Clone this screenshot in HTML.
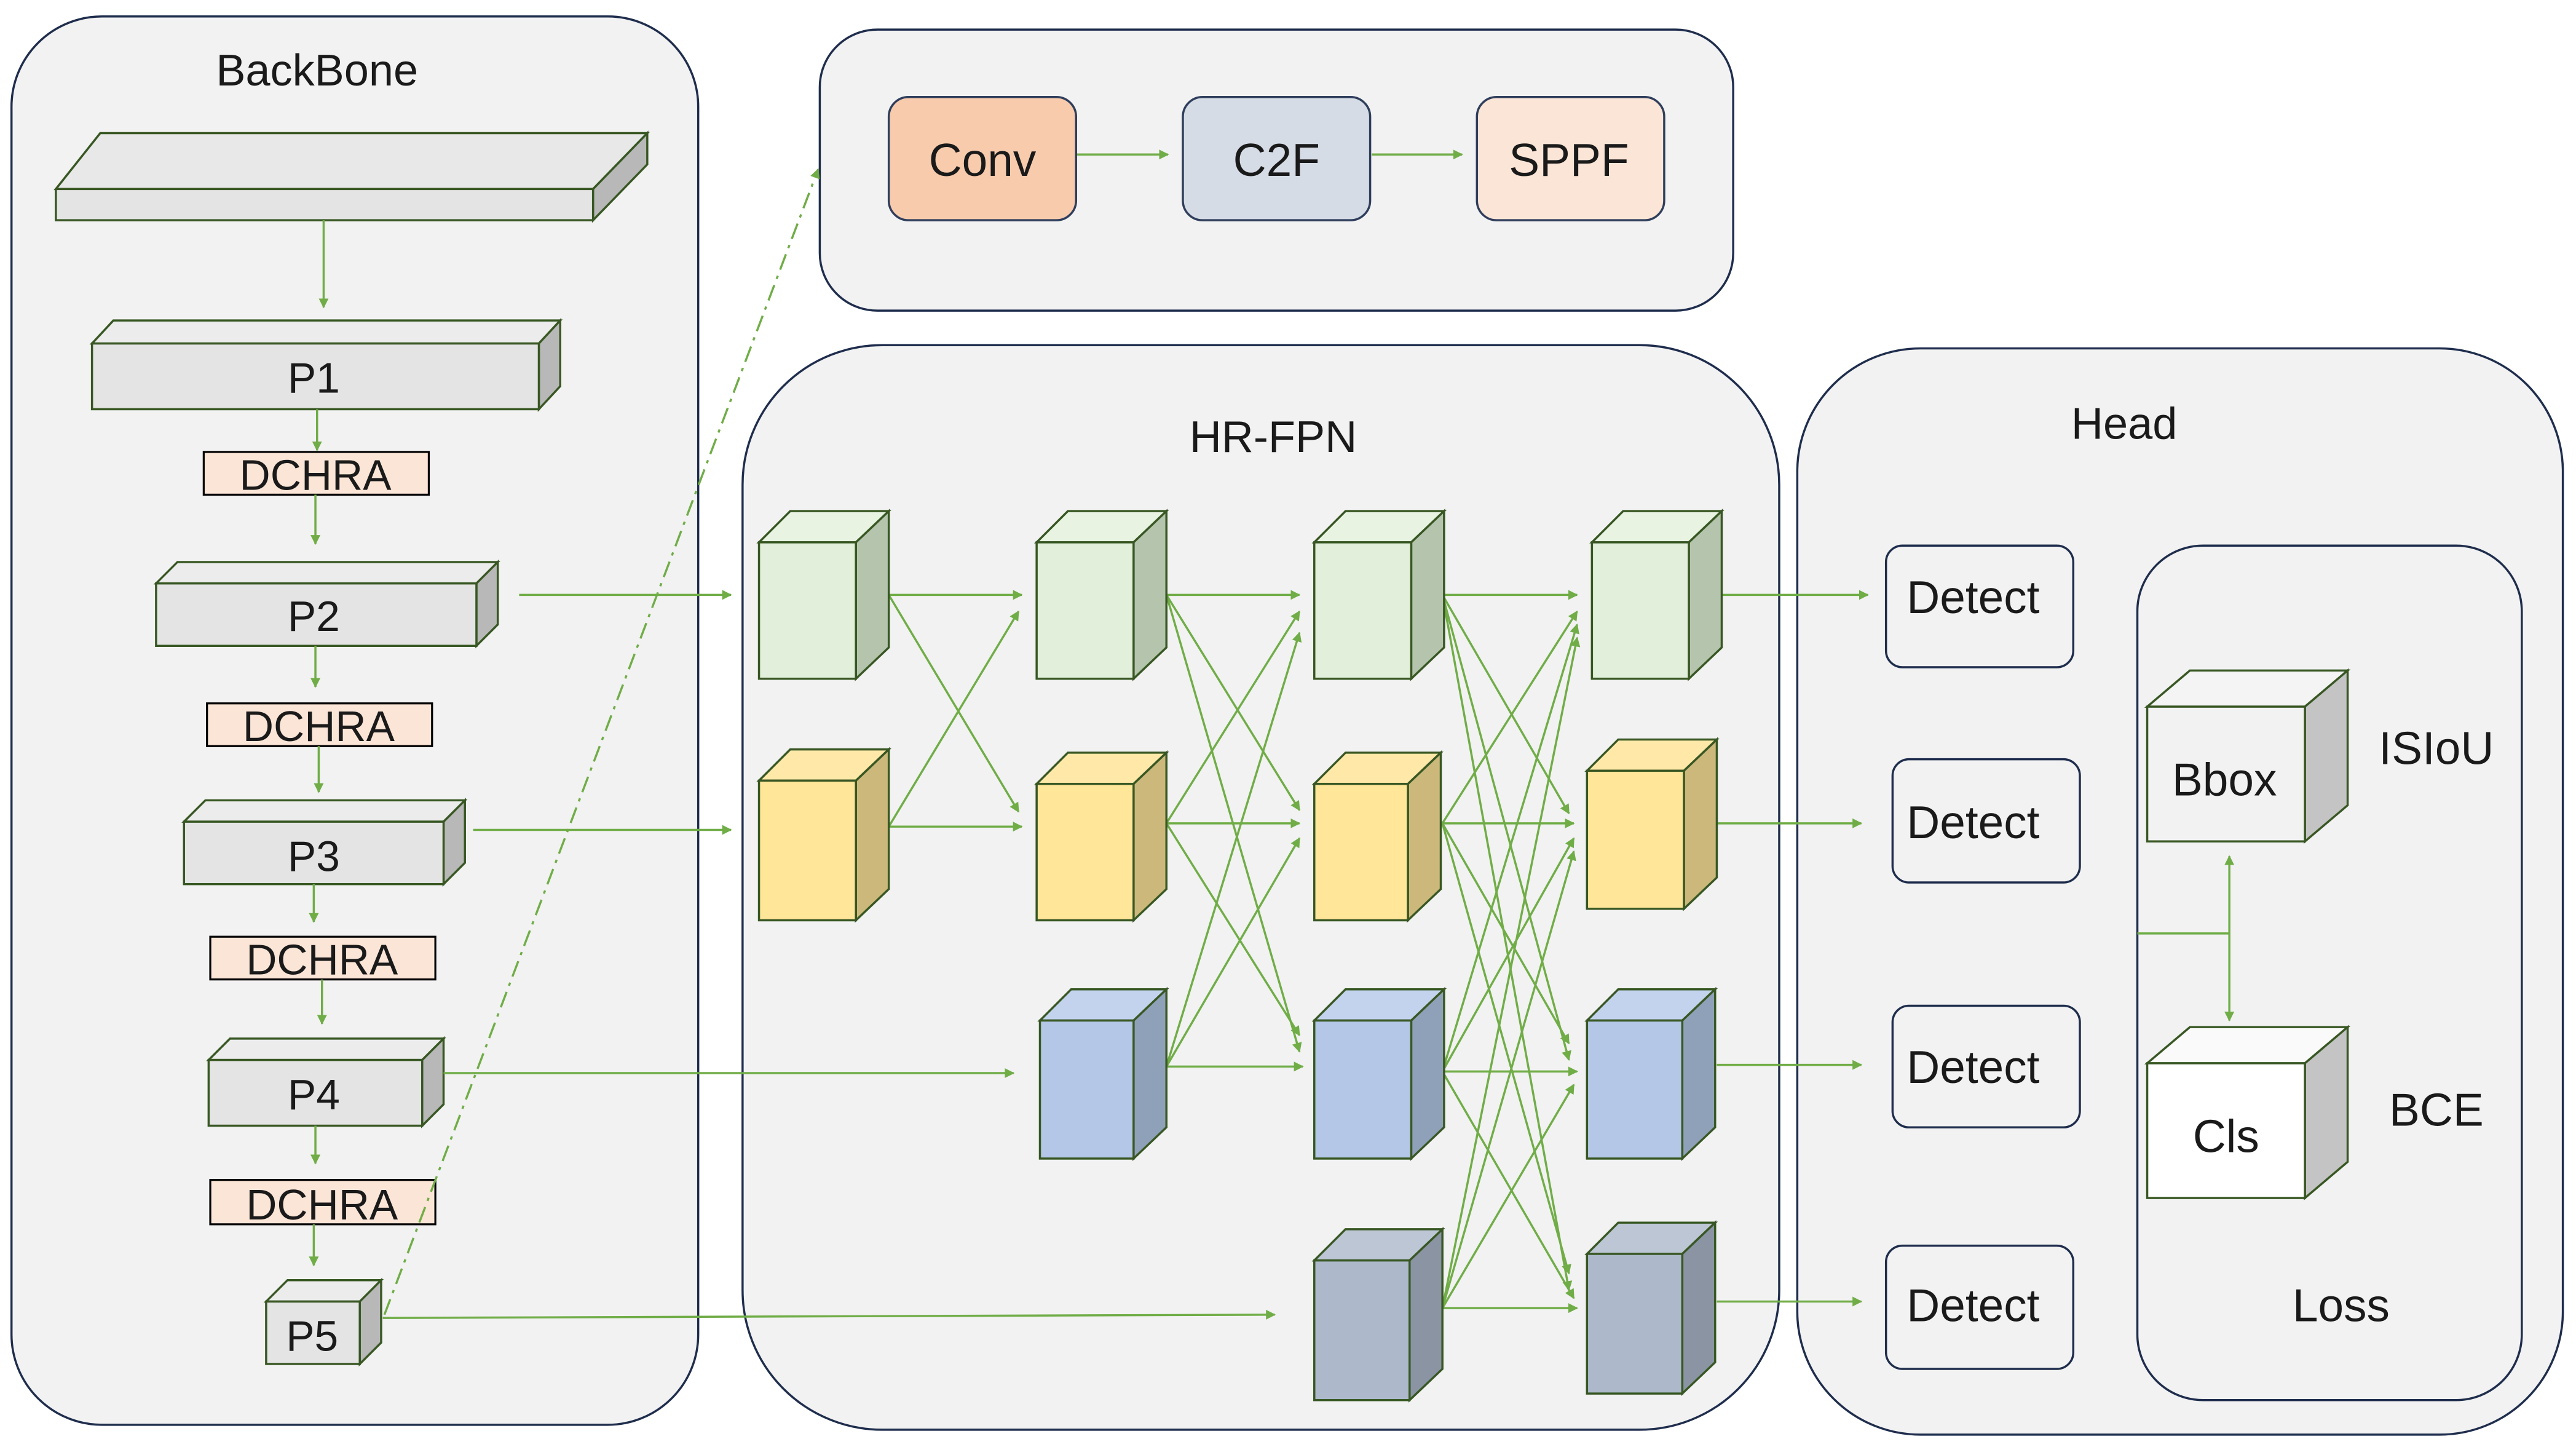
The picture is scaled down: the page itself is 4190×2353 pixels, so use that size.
<!DOCTYPE html>
<html><head><meta charset="utf-8"><style>html,body{margin:0;padding:0;background:#fff}svg{display:block}text{font-family:"Liberation Sans",sans-serif;fill:#1a1a1a}</style></head><body>
<svg width="4190" height="2353" viewBox="0 0 1568 880.5" xmlns="http://www.w3.org/2000/svg">
<defs>
<marker id="a" viewBox="0 0 10 10" refX="9" refY="5" markerWidth="6" markerHeight="6" orient="auto" markerUnits="userSpaceOnUse"><path d="M0,0L10,5L0,10z" fill="#70ad47"/></marker>
<marker id="a2" viewBox="0 0 10 10" refX="9" refY="5" markerWidth="9" markerHeight="9" orient="auto" markerUnits="userSpaceOnUse"><path d="M0,0L10,5L0,10z" fill="#70ad47"/></marker>
</defs>
<rect width="1568" height="880.5" fill="#fff"/>
<g fill="#f2f2f2" stroke="#1f2d4d" stroke-width="1.3">
<rect x="7" y="10" width="418" height="857" rx="55"/>
<rect x="499" y="18" width="556" height="171" rx="35"/>
<rect x="452" y="210" width="631" height="660" rx="85"/>
<rect x="1094" y="212" width="466" height="661" rx="75"/>
<rect x="1301" y="332" width="234" height="520" rx="40"/>
</g>
<g font-size="27" text-anchor="middle">
<text x="193" y="52">BackBone</text>
<text x="775" y="275">HR-FPN</text>
<text x="1293" y="267">Head</text>
</g>
<!-- backbone slabs -->
<g stroke="#385723" stroke-width="1.3">
<polygon points="34,115 61,81 394,81 361,115" fill="#e8e8e8"/>
<polygon points="361,115 394,81 394,100 361,134" fill="#b8b8b8"/>
<rect x="34" y="115" width="327" height="19" fill="#e4e4e4"/>
</g>
<g id="slabs" stroke="#385723" stroke-width="1.3">
<polygon points="56,209 69,195 341,195 328,209" fill="#ececec"/><polygon points="328,209 341,195 341,235 328,249" fill="#b8b8b8"/><rect x="56" y="209" width="272" height="40" fill="#e4e4e4"/>
<polygon points="95,355 108,342 303,342 290,355" fill="#ececec"/><polygon points="290,355 303,342 303,380 290,393" fill="#b8b8b8"/><rect x="95" y="355" width="195" height="38" fill="#e4e4e4"/>
<polygon points="112,500 125,487 283,487 270,500" fill="#ececec"/><polygon points="270,500 283,487 283,525 270,538" fill="#b8b8b8"/><rect x="112" y="500" width="158" height="38" fill="#e4e4e4"/>
<polygon points="127,645 140,632 270,632 257,645" fill="#ececec"/><polygon points="257,645 270,632 270,672 257,685" fill="#b8b8b8"/><rect x="127" y="645" width="130" height="40" fill="#e4e4e4"/>
<polygon points="162,792 175,779 232,779 219,792" fill="#ececec"/><polygon points="219,792 232,779 232,817 219,830" fill="#b8b8b8"/><rect x="162" y="792" width="57" height="38" fill="#e4e4e4"/>
</g>
<g fill="#fbe5d6" stroke="#000" stroke-width="1.2">
<rect x="124" y="275" width="137" height="26"/><rect x="126" y="428" width="137" height="26"/><rect x="128" y="570" width="137" height="26"/><rect x="128" y="718" width="137" height="27"/>
</g>
<g font-size="26" text-anchor="middle">
<text x="191" y="239">P1</text><text x="191" y="384">P2</text><text x="191" y="530">P3</text><text x="191" y="675">P4</text><text x="190" y="822">P5</text>
<text x="192" y="298">DCHRA</text><text x="194" y="451">DCHRA</text><text x="196" y="593">DCHRA</text><text x="196" y="742">DCHRA</text>
</g>
<g stroke="#70ad47" stroke-width="1.3" fill="none" marker-end="url(#a)">
<line x1="197" y1="134" x2="197" y2="187"/>
<line x1="193" y1="249" x2="193" y2="274"/><line x1="192" y1="301" x2="192" y2="331"/>
<line x1="192" y1="393" x2="192" y2="418"/><line x1="194" y1="454" x2="194" y2="482"/>
<line x1="191" y1="538" x2="191" y2="561"/><line x1="196" y1="596" x2="196" y2="623"/>
<line x1="192" y1="685" x2="192" y2="708"/><line x1="191" y1="745" x2="191" y2="770"/>
<line x1="316" y1="362" x2="445" y2="362"/>
<line x1="288" y1="505" x2="445" y2="505"/>
<line x1="270" y1="653" x2="617" y2="653"/>
<line x1="233" y1="802" x2="776" y2="800"/>
<line x1="234" y1="800" x2="498" y2="103" stroke-dasharray="10,4,2,4"/>
<line x1="655" y1="94" x2="711" y2="94"/><line x1="835" y1="94" x2="890" y2="94"/>
<!-- col1 -->
<line x1="541" y1="362" x2="622" y2="362"/><line x1="541" y1="362" x2="620" y2="494"/>
<line x1="541" y1="503" x2="620" y2="372"/><line x1="541" y1="503" x2="622" y2="503"/>
<!-- col2 to col3 -->
<line x1="710" y1="362" x2="791" y2="362"/><line x1="710" y1="362" x2="791" y2="493"/><line x1="710" y1="362" x2="791" y2="640"/>
<line x1="710" y1="501" x2="791" y2="372"/><line x1="710" y1="501" x2="791" y2="501"/><line x1="710" y1="501" x2="791" y2="630"/>
<line x1="710" y1="649" x2="791" y2="385"/><line x1="710" y1="649" x2="791" y2="510"/><line x1="710" y1="649" x2="793" y2="649"/>
<!-- col3 to col4 -->
<line x1="878" y1="362" x2="960" y2="362"/><line x1="878" y1="362" x2="955" y2="495"/><line x1="878" y1="362" x2="955" y2="645"/><line x1="878" y1="362" x2="955" y2="785"/>
<line x1="878" y1="501" x2="960" y2="372"/><line x1="878" y1="501" x2="958" y2="501"/><line x1="878" y1="501" x2="955" y2="635"/><line x1="878" y1="501" x2="955" y2="775"/>
<line x1="878" y1="652" x2="960" y2="380"/><line x1="878" y1="652" x2="958" y2="510"/><line x1="878" y1="652" x2="960" y2="652"/><line x1="878" y1="652" x2="958" y2="790"/>
<line x1="878" y1="796" x2="960" y2="388"/><line x1="878" y1="796" x2="958" y2="518"/><line x1="878" y1="796" x2="958" y2="660"/><line x1="878" y1="796" x2="960" y2="796"/>
<!-- col4 to detect -->
<line x1="1048" y1="362" x2="1137" y2="362"/><line x1="1045" y1="501" x2="1133" y2="501"/><line x1="1045" y1="648" x2="1133" y2="648"/><line x1="1045" y1="792" x2="1133" y2="792"/>
<line x1="1301" y1="568" x2="1357" y2="568" marker-end="none"/>
<line x1="1357" y1="568" x2="1357" y2="621"/><line x1="1357" y1="568" x2="1357" y2="521"/>
</g>
<!-- top blocks -->
<g stroke="#2f3e5c" stroke-width="1.3">
<rect x="541" y="59" width="114" height="75" rx="12" fill="#f8cbad"/>
<rect x="720" y="59" width="114" height="75" rx="12" fill="#d6dce5"/>
<rect x="899" y="59" width="114" height="75" rx="12" fill="#fbe5d6"/>
</g>
<g font-size="28" text-anchor="middle">
<text x="598" y="107">Conv</text><text x="777" y="107">C2F</text><text x="955" y="107">SPPF</text>
</g>
<!-- cubes -->
<g stroke="#385723" stroke-width="1.3">
<g fill="#e2efda"><polygon points="462,330 481,311 541,311 521,330" fill="#e8f3e2"/><polygon points="521,330 541,311 541,394 521,413" fill="#b5c4ad"/><rect x="462" y="330" width="59" height="83"/></g>
<g fill="#e2efda"><polygon points="631,330 650,311 710,311 690,330" fill="#e8f3e2"/><polygon points="690,330 710,311 710,394 690,413" fill="#b5c4ad"/><rect x="631" y="330" width="59" height="83"/></g>
<g fill="#e2efda"><polygon points="800,330 819,311 879,311 859,330" fill="#e8f3e2"/><polygon points="859,330 879,311 879,394 859,413" fill="#b5c4ad"/><rect x="800" y="330" width="59" height="83"/></g>
<g fill="#e2efda"><polygon points="969,330 988,311 1048,311 1028,330" fill="#e8f3e2"/><polygon points="1028,330 1048,311 1048,394 1028,413" fill="#b5c4ad"/><rect x="969" y="330" width="59" height="83"/></g>
<g fill="#ffe699"><polygon points="462,475 481,456 541,456 521,475" fill="#ffe8a8"/><polygon points="521,475 541,456 541,541 521,560" fill="#cbb87a"/><rect x="462" y="475" width="59" height="85"/></g>
<g fill="#ffe699"><polygon points="631,477 650,458 710,458 690,477" fill="#ffe8a8"/><polygon points="690,477 710,458 710,541 690,560" fill="#cbb87a"/><rect x="631" y="477" width="59" height="83"/></g>
<g fill="#ffe699"><polygon points="800,477 819,458 877,458 857,477" fill="#ffe8a8"/><polygon points="857,477 877,458 877,541 857,560" fill="#cbb87a"/><rect x="800" y="477" width="57" height="83"/></g>
<g fill="#ffe699"><polygon points="966,469 985,450 1045,450 1025,469" fill="#ffe8a8"/><polygon points="1025,469 1045,450 1045,534 1025,553" fill="#cbb87a"/><rect x="966" y="469" width="59" height="84"/></g>
<g fill="#b4c7e7"><polygon points="633,621 652,602 710,602 690,621" fill="#c3d3ee"/><polygon points="690,621 710,602 710,686 690,705" fill="#8fa0b9"/><rect x="633" y="621" width="57" height="84"/></g>
<g fill="#b4c7e7"><polygon points="800,621 819,602 879,602 859,621" fill="#c3d3ee"/><polygon points="859,621 879,602 879,686 859,705" fill="#8fa0b9"/><rect x="800" y="621" width="59" height="84"/></g>
<g fill="#b4c7e7"><polygon points="966,621 985,602 1044,602 1024,621" fill="#c3d3ee"/><polygon points="1024,621 1044,602 1044,686 1024,705" fill="#8fa0b9"/><rect x="966" y="621" width="58" height="84"/></g>
<g fill="#adb9ca"><polygon points="800,767 819,748 878,748 858,767" fill="#bcc6d4"/><polygon points="858,767 878,748 878,833 858,852" fill="#8a94a3"/><rect x="800" y="767" width="58" height="85"/></g>
<g fill="#adb9ca"><polygon points="966,763 985,744 1044,744 1024,763" fill="#bcc6d4"/><polygon points="1024,763 1044,744 1044,829 1024,848" fill="#8a94a3"/><rect x="966" y="763" width="58" height="85"/></g>
</g>
<!-- head -->
<g fill="#f2f2f2" stroke="#1f2d4d" stroke-width="1.3">
<rect x="1148" y="332" width="114" height="74" rx="10"/>
<rect x="1152" y="462" width="114" height="75" rx="10"/>
<rect x="1152" y="612" width="114" height="74" rx="10"/>
<rect x="1148" y="758" width="114" height="75" rx="10"/>
</g>
<g font-size="28" text-anchor="middle">
<text x="1201" y="373">Detect</text><text x="1201" y="510">Detect</text><text x="1201" y="659">Detect</text><text x="1201" y="804">Detect</text>
</g>
<g stroke="#385723" stroke-width="1.3">
<polygon points="1307,430 1333,408 1429,408 1403,430" fill="#f4f4f4"/><polygon points="1403,430 1429,408 1429,490 1403,512" fill="#c4c4c4"/><rect x="1307" y="430" width="96" height="82" fill="#f2f2f2"/>
<polygon points="1307,647 1333,625 1429,625 1403,647" fill="#fafafa"/><polygon points="1403,647 1429,625 1429,707 1403,729" fill="#c4c4c4"/><rect x="1307" y="647" width="96" height="82" fill="#fff"/>
</g>
<g font-size="28" text-anchor="middle">
<text x="1354" y="484">Bbox</text><text x="1355" y="701">Cls</text>
<text x="1483" y="465">ISIoU</text><text x="1483" y="685">BCE</text><text x="1425" y="804">Loss</text>
</g>
</svg>
</body></html>
